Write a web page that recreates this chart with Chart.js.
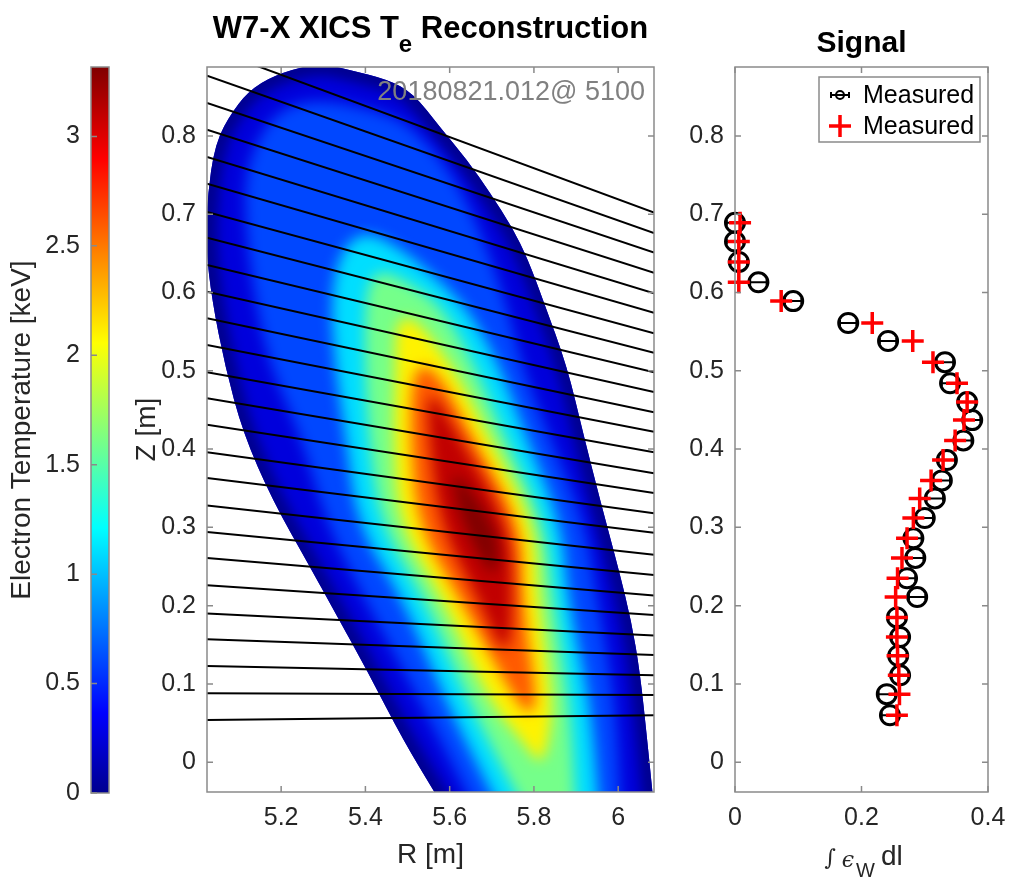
<!DOCTYPE html>
<html>
<head>
<meta charset="utf-8">
<script src="https://cdn.jsdelivr.net/npm/chart.js@4.4.1/dist/chart.umd.min.js"></script>
<style>
  html, body { margin: 0; padding: 0; background: #fff; }
  #wrap { position: relative; width: 1010px; height: 877px; overflow: hidden; }
  canvas { position: absolute; top: 0; }
  #cBar { left: 0; }
  #cMid { left: 130px; }
  #cSig { left: 680px; }
</style>
</head>
<body>
<div id="wrap">
  <canvas id="cBar" width="130" height="877"></canvas>
  <canvas id="cMid" width="550" height="877"></canvas>
  <canvas id="cSig" width="330" height="877"></canvas>
</div>
<script>
'use strict';

// ─── Data ────────────────────────────────────────────────────────────────────

// colour scale (keV)
const TE_MAX = 3.317;
const teTicks      = [0, 0.5, 1, 1.5, 2, 2.5, 3];
const teTickLabels = ['0', '0.5', '1', '1.5', '2', '2.5', '3'];

// axes
const R_MIN = 5.024, R_MAX = 6.085;
const Z_MIN = -0.038, Z_MAX = 0.888;
const rTicks       = [5.2, 5.4, 5.6, 5.8, 6.0];
const rTickLabels  = ['5.2', '5.4', '5.6', '5.8', '6'];
const zTicks       = [0, 0.1, 0.2, 0.3, 0.4, 0.5, 0.6, 0.7, 0.8];
const zTickLabels  = ['0', '0.1', '0.2', '0.3', '0.4', '0.5', '0.6', '0.7', '0.8'];
const sigTicks      = [0, 0.2, 0.4];
const sigTickLabels = ['0', '0.2', '0.4'];

// plasma boundary, [R, Z] in m
const plasmaEdge = [
  [5.293, 0.893], [5.364, 0.884], [5.452, 0.872], [5.513, 0.855], [5.577, 0.811],
  [5.642, 0.769], [5.696, 0.727], [5.748, 0.684], [5.786, 0.642], [5.822, 0.590],
  [5.879, 0.505], [5.917, 0.420], [5.957, 0.335], [6.000, 0.249], [6.031, 0.181],
  [6.052, 0.114], [6.069, 0.028], [6.081, -0.036], [6.102, -0.150], [5.689, -0.150],
  [5.566, -0.040], [5.490, 0.028], [5.407, 0.114], [5.321, 0.198], [5.269, 0.249],
  [5.179, 0.335], [5.110, 0.420], [5.067, 0.505], [5.036, 0.590], [5.022, 0.654],
  [5.024, 0.718], [5.043, 0.791], [5.086, 0.833], [5.134, 0.863], [5.205, 0.882],
];

// Te contour lines (keV) and their outlines, [R, Z] in m
const teLevels = [0.5, 1.0, 1.5, 2.0, 2.5, 3.0, 3.25];
const teContour05 = [
  [5.304, 0.846], [5.435, 0.831], [5.506, 0.814], [5.600, 0.757], [5.670, 0.684],
  [5.732, 0.590], [5.772, 0.505], [5.834, 0.420], [5.922, 0.303], [5.950, 0.207],
  [5.993, 0.079], [6.005, -0.049], [6.010, -0.100], [5.696, -0.100], [5.649, -0.049],
  [5.530, 0.079], [5.399, 0.207], [5.309, 0.303], [5.245, 0.420], [5.174, 0.505],
  [5.138, 0.590], [5.115, 0.684], [5.115, 0.757], [5.162, 0.814], [5.221, 0.840],
];
const teContour10 = [
  [5.395, 0.680], [5.482, 0.657], [5.577, 0.615], [5.649, 0.575], [5.720, 0.505],
  [5.779, 0.420], [5.867, 0.303], [5.881, 0.207], [5.934, 0.079], [5.953, -0.049],
  [5.961, -0.100], [5.755, -0.100], [5.708, -0.049], [5.589, 0.079], [5.490, 0.207],
  [5.380, 0.303], [5.352, 0.420], [5.328, 0.505], [5.318, 0.590], [5.338, 0.650],
];
const teContour15 = [
  [5.440, 0.629], [5.511, 0.610], [5.585, 0.580], [5.661, 0.505], [5.727, 0.420],
  [5.827, 0.303], [5.846, 0.207], [5.886, 0.079], [5.898, -0.049], [5.903, -0.100],
  [5.817, -0.100], [5.767, -0.049], [5.642, 0.079], [5.542, 0.207], [5.435, 0.303],
  [5.407, 0.420], [5.399, 0.505], [5.399, 0.580], [5.410, 0.615],
];
const teContour20 = [
  [5.490, 0.571], [5.535, 0.558], [5.620, 0.495], [5.689, 0.420], [5.803, 0.303],
  [5.810, 0.207], [5.846, 0.079], [5.834, 0.022], [5.815, -0.004], [5.779, 0.022],
  [5.691, 0.079], [5.585, 0.207], [5.478, 0.303], [5.466, 0.420], [5.471, 0.500],
  [5.471, 0.552],
];
const teContour25 = [
  [5.535, 0.511], [5.585, 0.488], [5.649, 0.420], [5.772, 0.303], [5.772, 0.207],
  [5.808, 0.079], [5.791, 0.060], [5.755, 0.079], [5.625, 0.207], [5.523, 0.303],
  [5.506, 0.420], [5.511, 0.488],
];
const teContour30 = [
  [5.549, 0.482], [5.613, 0.425], [5.742, 0.303], [5.750, 0.207], [5.742, 0.143],
  [5.715, 0.150], [5.668, 0.207], [5.577, 0.303], [5.549, 0.420],
];
const teContour325 = [
  [5.606, 0.380], [5.708, 0.303], [5.720, 0.258], [5.701, 0.235], [5.649, 0.284],
  [5.613, 0.335],
];

// XICS lines of sight: Z at the two ends R = chordR[0], chordR[1]
const chordR      = [5.024, 6.085];
const chordZStart = [0.913, 0.877, 0.842, 0.808, 0.773, 0.739, 0.703, 0.670, 0.635, 0.601,
                     0.567, 0.533, 0.498, 0.465, 0.431, 0.396, 0.363, 0.328, 0.294, 0.261,
                     0.226, 0.190, 0.157, 0.123, 0.088, 0.054];
const chordZEnd   = [0.702, 0.676, 0.651, 0.625, 0.599, 0.574, 0.548, 0.523, 0.498, 0.473,
                     0.447, 0.422, 0.396, 0.369, 0.344, 0.318, 0.293, 0.265, 0.239, 0.213,
                     0.188, 0.162, 0.137, 0.111, 0.086, 0.060];

// signal panel: one value per chord
const chordZ      = [0.689, 0.665, 0.639, 0.613, 0.589, 0.561, 0.538, 0.511, 0.484, 0.460,
                     0.437, 0.411, 0.386, 0.360, 0.337, 0.312, 0.286, 0.261, 0.235, 0.211,
                     0.185, 0.160, 0.136, 0.111, 0.087, 0.060];
const sigMeasured = [0.000, 0.000, 0.006, 0.037, 0.092, 0.179, 0.242, 0.332, 0.340, 0.367,
                     0.375, 0.361, 0.335, 0.327, 0.316, 0.300, 0.282, 0.285, 0.272, 0.288,
                     0.256, 0.261, 0.258, 0.261, 0.240, 0.245];
const sigError    = [0.013, 0.013, 0.013, 0.013, 0.013, 0.013, 0.013, 0.013, 0.013, 0.013,
                     0.013, 0.013, 0.013, 0.013, 0.013, 0.013, 0.013, 0.013, 0.013, 0.013,
                     0.013, 0.013, 0.013, 0.013, 0.013, 0.013];
const sigModel    = [0.008, 0.006, 0.006, 0.006, 0.073, 0.217, 0.281, 0.313, 0.351, 0.367,
                     0.362, 0.348, 0.329, 0.310, 0.292, 0.282, 0.272, 0.264, 0.257, 0.254,
                     0.256, 0.256, 0.257, 0.259, 0.260, 0.256];

// ─── Style ───────────────────────────────────────────────────────────────────

const FONT     = "'Liberation Sans', Arial, Helvetica, sans-serif";
const TXT      = '#262626';
const AXIS_COL = '#8a8a8a';
const TICK_LEN = 6;

// jet colour map
const jetPos = [0, 0.11, 0.365, 0.62, 0.873, 1];
const jetRGB = [[0, 0, 143], [0, 0, 255], [0, 255, 255], [255, 255, 0], [255, 0, 0], [128, 0, 0]];

function jet(v) {
  const f = Math.min(1, Math.max(0, v / TE_MAX));
  let i = 0;
  while (i < jetPos.length - 2 && f > jetPos[i + 1]) i++;
  const t = (f - jetPos[i]) / (jetPos[i + 1] - jetPos[i]);
  const c = jetRGB[i].map((a, k) => Math.round(a + (jetRGB[i + 1][k] - a) * t));
  return `rgb(${c[0]},${c[1]},${c[2]})`;
}

Chart.defaults.font.family = FONT;
Chart.defaults.color = TXT;

// ─── Helpers ─────────────────────────────────────────────────────────────────

function fixedTicks(values) {
  return scale => { scale.ticks = values.map(v => ({ value: v })); };
}

function tickOpts(labels) {
  return {
    font: { size: 25 },
    color: TXT,
    padding: 11,
    autoSkip: false,
    maxRotation: 0,
    minRotation: 0,
    callback: (v, i) => labels[i],
  };
}

function fitX(scale) {
  scale.height = 85;
  scale.paddingLeft = 0;
  scale.paddingRight = 0;
}

// smooth closed path through data points (midpoint quadratic)
function tracePath(ctx, pts) {
  const n = pts.length;
  const mid = (a, b) => [(a[0] + b[0]) / 2, (a[1] + b[1]) / 2];
  const m0 = mid(pts[n - 1], pts[0]);
  ctx.beginPath();
  ctx.moveTo(m0[0], m0[1]);
  for (let i = 0; i < n; i++) {
    const m = mid(pts[i], pts[(i + 1) % n]);
    ctx.quadraticCurveTo(pts[i][0], pts[i][1], m[0], m[1]);
  }
  ctx.closePath();
}

// MATLAB-like box with inward tick marks
function drawFrame(chart, sides) {
  const { ctx, chartArea: a, scales } = chart;
  ctx.save();
  ctx.strokeStyle = AXIS_COL;
  ctx.lineWidth = 1.5;
  ctx.strokeRect(a.left, a.top, a.width, a.height);
  ctx.beginPath();
  if (sides.x) {
    scales.x.ticks.forEach(t => {
      const px = scales.x.getPixelForValue(t.value);
      ctx.moveTo(px, a.bottom); ctx.lineTo(px, a.bottom - TICK_LEN);
      ctx.moveTo(px, a.top);    ctx.lineTo(px, a.top + TICK_LEN);
    });
  }
  scales.y.ticks.forEach(t => {
    const py = scales.y.getPixelForValue(t.value);
    ctx.moveTo(a.left, py); ctx.lineTo(a.left + TICK_LEN, py);
    if (sides.yRight) { ctx.moveTo(a.right, py); ctx.lineTo(a.right - TICK_LEN, py); }
  });
  ctx.stroke();
  ctx.restore();
}

// ─── Colour bar ──────────────────────────────────────────────────────────────

new Chart(document.getElementById('cBar'), {
  type: 'bar',
  data: {
    labels: [''],
    datasets: [{
      data: [[0, TE_MAX]],
      borderWidth: 0,
      barPercentage: 1,
      categoryPercentage: 1,
      backgroundColor: c => {
        const { chart } = c;
        if (!chart.chartArea) return 'transparent';
        const y = chart.scales.y;
        const g = chart.ctx.createLinearGradient(0, y.getPixelForValue(0), 0, y.getPixelForValue(TE_MAX));
        jetPos.forEach((p, i) => g.addColorStop(p, `rgb(${jetRGB[i].join(',')})`));
        return g;
      },
    }],
  },
  options: {
    responsive: false,
    animation: false,
    devicePixelRatio: 1,
    layout: { padding: { left: 0, right: 21, top: 67, bottom: 84 } },
    plugins: { legend: { display: false }, tooltip: { enabled: false } },
    scales: {
      x: { display: false },
      y: {
        min: 0,
        max: TE_MAX,
        afterBuildTicks: fixedTicks(teTicks),
        afterFit: s => { s.width = 91; },
        ticks: tickOpts(teTickLabels),
        grid: { display: false, drawTicks: false },
        border: { display: false },
        title: {
          display: true,
          text: 'Electron Temperature [keV]',
          font: { size: 28 },
          color: TXT,
          padding: { top: 5, bottom: 0 },
        },
      },
    },
  },
  plugins: [{
    id: 'barFrame',
    afterDraw: chart => drawFrame(chart, { x: false, yRight: false }),
  }],
});

// ─── Reconstruction panel ────────────────────────────────────────────────────

const teContours = [teContour05, teContour10, teContour15, teContour20,
                    teContour25, teContour30, teContour325];

const plasmaPlugin = {
  id: 'plasma',
  beforeDatasetsDraw(chart) {
    const { ctx, chartArea: a, scales: { x, y } } = chart;
    const toPx = pts => pts.map(([r, z]) => [x.getPixelForValue(r), y.getPixelForValue(z)]);
    ctx.save();
    ctx.beginPath();
    ctx.rect(a.left, a.top, a.width, a.height);
    ctx.clip();

    tracePath(ctx, toPx(plasmaEdge));
    ctx.fillStyle = jet(0.25);
    ctx.fill();
    ctx.clip();

    // darker rim just inside the edge
    ctx.filter = 'blur(6px)';
    tracePath(ctx, toPx(plasmaEdge));
    ctx.strokeStyle = jet(0);
    ctx.lineWidth = 22;
    ctx.stroke();

    // filled contour bands, softened
    ctx.filter = 'blur(7px)';
    teContours.forEach((pts, i) => {
      tracePath(ctx, toPx(pts));
      ctx.fillStyle = jet(teLevels[i] + 0.1);
      ctx.fill();
    });
    ctx.restore();
  },
  afterDraw(chart) {
    const { ctx, chartArea: a } = chart;
    ctx.save();
    // title with subscript
    const big = `bold 31px ${FONT}`;
    const sub = `bold 24px ${FONT}`;
    const parts = [['W7-X XICS T', big, 0], ['e', sub, 14], [' Reconstruction', big, 0]];
    let w = 0;
    parts.forEach(p => { ctx.font = p[1]; w += ctx.measureText(p[0]).width; });
    let cx = (a.left + a.right) / 2 - w / 2;
    ctx.fillStyle = '#000';
    ctx.textAlign = 'left';
    ctx.textBaseline = 'alphabetic';
    parts.forEach(p => {
      ctx.font = p[1];
      ctx.fillText(p[0], cx, 38 + p[2]);
      cx += ctx.measureText(p[0]).width;
    });
    // shot label
    ctx.font = `27px ${FONT}`;
    ctx.fillStyle = '#808080';
    ctx.textAlign = 'right';
    ctx.fillText('20180821.012@ 5100', a.right - 9, a.top + 33);
    ctx.restore();
    drawFrame(chart, { x: true, yRight: true });
  },
};

new Chart(document.getElementById('cMid'), {
  type: 'scatter',
  data: {
    datasets: chordZStart.map((z0, i) => ({
      data: [{ x: chordR[0], y: z0 }, { x: chordR[1], y: chordZEnd[i] }],
      showLine: true,
      borderColor: '#000',
      borderWidth: 2,
      pointRadius: 0,
    })),
  },
  options: {
    responsive: false,
    animation: false,
    devicePixelRatio: 1,
    layout: { padding: { left: 0, right: 26, top: 67, bottom: 0 } },
    plugins: { legend: { display: false }, tooltip: { enabled: false } },
    scales: {
      x: {
        type: 'linear',
        min: R_MIN,
        max: R_MAX,
        afterBuildTicks: fixedTicks(rTicks),
        afterFit: fitX,
        ticks: tickOpts(rTickLabels),
        grid: { display: false, drawTicks: false },
        border: { display: false },
        title: { display: true, text: 'R [m]', font: { size: 28 }, color: TXT, padding: { top: 0, bottom: 5 } },
      },
      y: {
        min: Z_MIN,
        max: Z_MAX,
        afterBuildTicks: fixedTicks(zTicks),
        afterFit: s => { s.width = 77; },
        ticks: tickOpts(zTickLabels),
        grid: { display: false, drawTicks: false },
        border: { display: false },
        title: { display: true, text: 'Z [m]', font: { size: 28 }, color: TXT, padding: { top: 0, bottom: 0 } },
      },
    },
  },
  plugins: [plasmaPlugin],
});

// ─── Signal panel ────────────────────────────────────────────────────────────

const signalPlugin = {
  id: 'signalDeco',
  afterDatasetDraw(chart, args) {
    if (args.index !== 0) return;
    // horizontal error bars on the measured points
    const { ctx, scales: { x, y } } = chart;
    ctx.save();
    ctx.strokeStyle = '#000';
    ctx.lineWidth = 2;
    ctx.beginPath();
    chordZ.forEach((z, i) => {
      const py = y.getPixelForValue(z);
      const x0 = x.getPixelForValue(sigMeasured[i] - sigError[i]);
      const x1 = x.getPixelForValue(sigMeasured[i] + sigError[i]);
      ctx.moveTo(x0, py); ctx.lineTo(x1, py);
      ctx.moveTo(x0, py - 3); ctx.lineTo(x0, py + 3);
      ctx.moveTo(x1, py - 3); ctx.lineTo(x1, py + 3);
    });
    ctx.stroke();
    ctx.restore();
  },
  afterDraw(chart) {
    const { ctx, chartArea: a, scales } = chart;
    drawFrame(chart, { x: true, yRight: true });
    ctx.save();
    const cx = (a.left + a.right) / 2;

    // title
    ctx.font = `bold 30px ${FONT}`;
    ctx.fillStyle = '#000';
    ctx.textAlign = 'center';
    ctx.textBaseline = 'alphabetic';
    ctx.fillText('Signal', cx, 52);

    // x-axis label: ∫ ϵ_W dl
    const yb = scales.x.bottom - 12;
    const parts = [
      ['\u222B', `22px 'DejaVu Serif', serif`, 0, 6],
      ['\u03F5', `italic 22px 'DejaVu Serif', serif`, 2, 2],
      ['W', `20px ${FONT}`, 12, 6],
      ['dl', `28px ${FONT}`, 0, 0],
    ];
    let w = 0;
    parts.forEach(p => { ctx.font = p[1]; w += ctx.measureText(p[0]).width + p[3]; });
    let px = cx - w / 2 + 2;
    ctx.textAlign = 'left';
    ctx.fillStyle = TXT;
    parts.forEach(p => {
      ctx.font = p[1];
      ctx.fillText(p[0], px, yb + p[2]);
      px += ctx.measureText(p[0]).width + p[3];
    });

    // legend
    const bx = a.right - 169, by = a.top + 10, bw = 161, bh = 65;
    ctx.fillStyle = '#fff';
    ctx.fillRect(bx, by, bw, bh);
    ctx.strokeStyle = AXIS_COL;
    ctx.lineWidth = 1.5;
    ctx.strokeRect(bx, by, bw, bh);
    const rows = [by + 18, by + 49];
    const ds = chart.data.datasets;
    // errorbar icon
    ctx.strokeStyle = '#000';
    ctx.lineWidth = 2;
    ctx.beginPath();
    ctx.moveTo(bx + 12, rows[0]); ctx.lineTo(bx + 30, rows[0]);
    ctx.moveTo(bx + 12, rows[0] - 3); ctx.lineTo(bx + 12, rows[0] + 3);
    ctx.moveTo(bx + 30, rows[0] - 3); ctx.lineTo(bx + 30, rows[0] + 3);
    ctx.stroke();
    ctx.beginPath();
    ctx.arc(bx + 21, rows[0], 4, 0, Math.PI * 2);
    ctx.stroke();
    // plus icon
    ctx.strokeStyle = '#ff0000';
    ctx.lineWidth = 3.5;
    ctx.beginPath();
    ctx.moveTo(bx + 10, rows[1]); ctx.lineTo(bx + 32, rows[1]);
    ctx.moveTo(bx + 21, rows[1] - 11); ctx.lineTo(bx + 21, rows[1] + 11);
    ctx.stroke();
    ctx.font = `25px ${FONT}`;
    ctx.fillStyle = '#000';
    ctx.textBaseline = 'middle';
    ctx.fillText(ds[0].label, bx + 44, rows[0] + 1);
    ctx.fillText(ds[1].label, bx + 44, rows[1] + 1);
    ctx.restore();
  },
};

new Chart(document.getElementById('cSig'), {
  type: 'scatter',
  data: {
    datasets: [
      {
        label: 'Measured',
        data: chordZ.map((z, i) => ({ x: sigMeasured[i], y: z })),
        pointStyle: 'circle',
        pointRadius: 9.5,
        pointBorderWidth: 3,
        pointBorderColor: '#000',
        pointBackgroundColor: 'rgba(0,0,0,0)',
        clip: false,
        order: 2,
      },
      {
        label: 'Measured',
        data: chordZ.map((z, i) => ({ x: sigModel[i], y: z })),
        pointStyle: 'cross',
        pointRadius: 11,
        pointBorderWidth: 3.5,
        pointBorderColor: '#ff0000',
        clip: false,
        order: 1,
      },
    ],
  },
  options: {
    responsive: false,
    animation: false,
    devicePixelRatio: 1,
    layout: { padding: { left: 0, right: 22, top: 67, bottom: 0 } },
    plugins: { legend: { display: false }, tooltip: { enabled: false } },
    scales: {
      x: {
        type: 'linear',
        min: 0,
        max: 0.4,
        afterBuildTicks: fixedTicks(sigTicks),
        afterFit: fitX,
        ticks: tickOpts(sigTickLabels),
        grid: { display: false, drawTicks: false },
        border: { display: false },
      },
      y: {
        min: Z_MIN,
        max: Z_MAX,
        afterBuildTicks: fixedTicks(zTicks),
        afterFit: s => { s.width = 55; },
        ticks: tickOpts(zTickLabels),
        grid: { display: false, drawTicks: false },
        border: { display: false },
      },
    },
  },
  plugins: [signalPlugin],
});
</script>
</body>
</html>
